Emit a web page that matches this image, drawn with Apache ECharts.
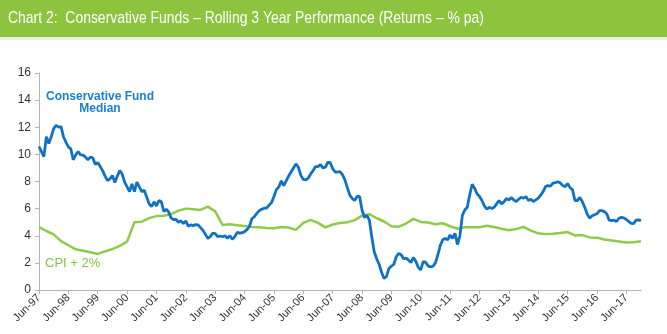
<!DOCTYPE html>
<html><head><meta charset="utf-8">
<script src="https://cdn.jsdelivr.net/npm/echarts@6/dist/echarts.min.js"></script>
<style>html,body{margin:0;padding:0;background:#fff}#c{width:667px;height:334px}</style>
</head><body><div id="c"></div>
<script>
// ---- Data ----
const titleText = 'Chart 2:  Conservative Funds \u2013 Rolling 3 Year Performance (Returns \u2013 % pa)';
const startLabel = 'Jun-97';          // first month of the series
const monthCount = 247;               // Jun-97 .. Dec-17, monthly
const yTicks = [0, 2, 4, 6, 8, 10, 12, 14, 16];

// Conservative Fund Median, rolling 3-year return (% pa), monthly from Jun-97
const fundMedian = [
  10.58,10.2,9.84,11.3,10.8,11.3,11.9,12.15,12.0,12.05,11.3,10.9,
  10.55,10.4,9.6,9.96,10.2,9.96,9.95,9.8,9.6,9.8,9.75,9.25,
  9.4,9.1,8.8,8.4,8.07,8.2,8.44,7.92,8.4,8.8,8.55,7.95,
  7.6,7.25,7.82,7.25,7.95,7.6,7.25,7.35,6.85,6.35,6.15,6.5,
  6.2,6.6,6.5,5.8,5.95,5.75,5.3,5.2,5.2,5.0,5.1,4.9,
  5.1,4.7,4.8,4.75,4.82,4.8,4.6,4.4,4.1,3.8,3.93,4.2,
  4.15,3.93,3.98,3.93,4.0,3.82,4.0,3.74,3.93,4.25,4.2,4.22,
  4.3,4.45,4.7,5.25,5.4,5.65,5.85,5.95,6.03,6.03,6.25,6.44,
  6.9,7.4,7.6,8.05,7.7,8.05,8.4,8.7,9.0,9.3,9.05,8.45,
  8.15,8.12,8.24,8.55,8.8,9.1,9.1,9.25,9.0,9.05,9.4,9.4,
  8.95,8.7,8.7,8.73,8.5,8.12,7.55,7.0,6.75,6.6,6.9,6.9,
  5.9,5.35,5.5,5.15,3.9,2.8,2.3,1.9,1.3,0.85,1.0,1.6,
  1.75,1.9,2.45,2.7,2.6,2.3,2.35,2.2,2.02,2.4,2.1,1.67,
  1.48,2.09,2.05,1.78,1.7,1.75,2.0,2.6,3.3,3.7,3.8,3.7,
  4.06,3.8,4.18,3.35,4.0,5.5,5.9,6.1,7.0,7.8,7.5,7.1,
  6.9,6.6,6.2,5.97,6.1,6.0,6.1,6.35,6.6,6.35,6.5,6.75,
  6.64,6.82,6.64,6.52,6.69,6.84,6.77,6.89,6.6,6.69,6.52,6.64,
  6.77,7.0,7.25,7.62,7.7,7.65,7.88,7.92,7.98,7.9,7.7,7.62,
  7.85,7.55,7.4,6.6,6.6,6.82,6.52,6.1,5.6,5.3,5.47,5.55,
  5.62,5.85,5.85,5.78,5.62,5.15,5.11,5.15,5.05,5.29,5.36,5.32,
  5.2,5.05,4.92,4.9,5.15,5.17,5.11
];

// CPI + 2% (% pa), quarterly from Jun-97 (every 3rd month)
const cpiPlus2 = [
  4.63,4.35,4.1,3.6,3.3,3.0,2.9,2.78,2.66,2.85,3.02,3.25,
  3.57,5.0,5.04,5.3,5.45,5.48,5.6,5.85,6.0,5.95,5.9,6.15,
  5.8,4.8,4.85,4.77,4.72,4.65,4.62,4.58,4.55,4.65,4.6,4.43,
  4.95,5.17,4.95,4.62,4.83,4.94,5.0,5.15,5.48,5.59,5.29,5.05,
  4.7,4.67,4.9,5.24,5.02,4.98,4.85,4.92,4.7,4.52,4.63,4.63,
  4.63,4.73,4.65,4.52,4.4,4.5,4.65,4.38,4.18,4.12,4.15,4.2,
  4.27,4.02,4.05,3.88,3.86,3.72,3.65,3.58,3.5,3.52,3.6
];
const cpiStep = 3;

const fundLabel = ['Conservative Fund', 'Median'];
const cpiLabel = 'CPI + 2%';

// ---- Build categories (monthly labels) ----
const monNames = ['Jan','Feb','Mar','Apr','May','Jun','Jul','Aug','Sep','Oct','Nov','Dec'];
const categories = [];
(function(){
  let mi = monNames.indexOf(startLabel.slice(0,3));
  let yr = parseInt(startLabel.slice(4), 10);
  for (let i = 0; i < monthCount; i++) {
    categories.push(monNames[mi] + '-' + String(yr).padStart(2,'0'));
    mi++; if (mi === 12) { mi = 0; yr = (yr + 1) % 100; }
  }
})();
const cpiData = cpiPlus2.map((v, i) => [i * cpiStep, v]);

const BLUE = '#1172c4';
const GREEN = '#8fcb4a';
const AXIS = '#b3b3b3';

const chart = echarts.init(document.getElementById('c'), null, {renderer: 'canvas'});
chart.setOption({
  animation: false,
  backgroundColor: '#ffffff',
  grid: {left: 39, right: 26, top: 73, bottom: 44, containLabel: false},
  graphic: [
    {type: 'rect', x: 0, y: 0, shape: {width: 667, height: 37}, style: {fill: '#8cc43f'}, silent: true},
    {type: 'rect', x: 0, y: 37, shape: {width: 667, height: 3}, style: {fill: '#e9f3dc'}, silent: true},
    {type: 'text', x: 8, y: 18, scaleX: 0.82, style: {text: titleText, fill: '#ffffff', verticalAlign: 'middle',
      font: '17px "Liberation Sans", Arial, sans-serif'}},
    {type: 'text', x: 100, y: 91, style: {text: fundLabel.join('\n'), fill: '#1a7fd0', align: 'center',
      font: 'bold 12px "Liberation Sans", Arial, sans-serif', lineHeight: 12}},
    {type: 'text', x: 45, y: 257, style: {text: cpiLabel, fill: '#86c441',
      font: '13px "Liberation Sans", Arial, sans-serif'}}
  ],
  xAxis: {
    type: 'category', data: categories, boundaryGap: false,
    axisLine: {lineStyle: {color: AXIS, width: 1}},
    axisTick: {show: true, interval: 11, length: 4, lineStyle: {color: AXIS}},
    axisLabel: {interval: 11, rotate: 45, fontSize: 11, color: '#333', margin: 6,
      fontFamily: '"Liberation Sans", Arial, sans-serif'},
    splitLine: {show: false}
  },
  yAxis: {
    type: 'value', min: yTicks[0], max: yTicks[yTicks.length-1], interval: yTicks[1]-yTicks[0],
    axisLine: {show: true, lineStyle: {color: AXIS, width: 1}},
    axisTick: {show: true, length: 4, lineStyle: {color: AXIS}},
    axisLabel: {fontSize: 12, color: '#333', margin: 8,
      fontFamily: '"Liberation Sans", Arial, sans-serif'},
    splitLine: {show: false}
  },
  series: [
    {name: cpiLabel, type: 'line', data: cpiData, showSymbol: false, symbol: 'none',
      lineStyle: {color: GREEN, width: 2.5}, z: 2},
    {name: fundLabel.join(' '), type: 'line', data: fundMedian, showSymbol: false, symbol: 'none',
      lineStyle: {color: BLUE, width: 2.8}, z: 3}
  ]
});
</script>
</body></html>
